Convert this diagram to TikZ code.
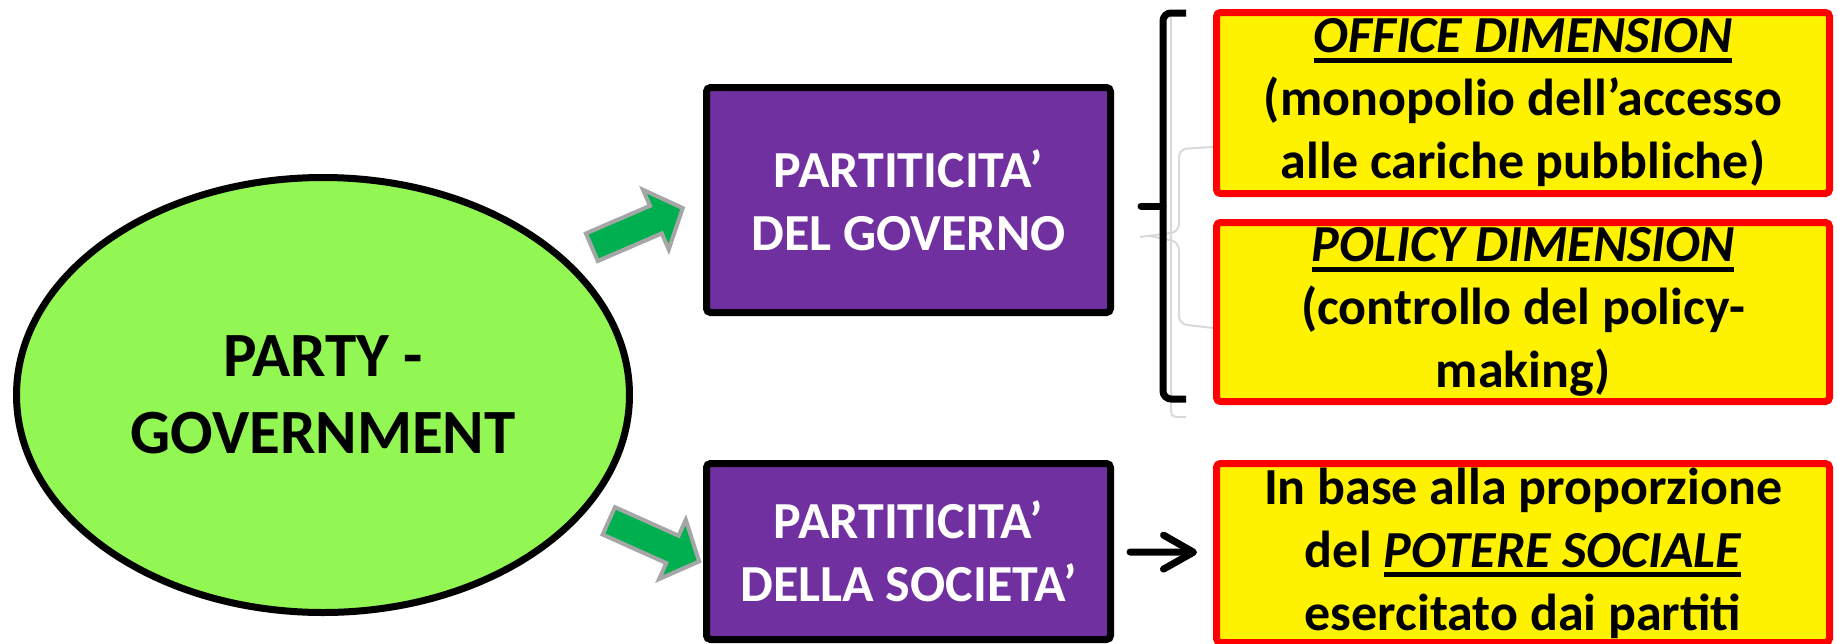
\documentclass[tikz,border=0pt]{standalone}
\usepackage{fontspec}
\setmainfont{Carlito}
\usetikzlibrary{shapes.geometric,shapes.arrows,arrows.meta}
\definecolor{partygreen}{RGB}{146,247,82}
\definecolor{partpurple}{RGB}{112,48,160}
\definecolor{arrowgreen}{RGB}{0,176,80}
\definecolor{arrowgray}{RGB}{166,166,166}
\definecolor{ghostgray}{RGB}{217,217,217}
\newcommand{\ulbold}[1]{\setbox0\hbox{\itshape #1}\rlap{\rule[-10pt]{\wd0}{5pt}}\box0}

\begin{document}
\begin{tikzpicture}[x=1pt,y=-1pt,
	party/.style={ellipse,draw,line width=7pt,fill=partygreen,minimum width=613pt,minimum height=435pt,align=center,font=\fontsize{63}{77}\selectfont\bfseries},
	partbox/.style={draw,line width=7pt,fill=partpurple,rounded corners=4pt,minimum width=404pt,text=white,align=center,font=\fontsize{52}{63}\selectfont\bfseries},
	dimbox/.style={draw=red,line width=7pt,fill=yellow,rounded corners=4pt,minimum width=613pt,align=center,font=\fontsize{52}{63}\selectfont\bfseries},
	greenarrow/.style={single arrow,draw=arrowgray,fill=arrowgreen,line width=4pt,minimum height=99pt,inner xsep=0pt,inner ysep=13pt,single arrow head extend=17.5pt,single arrow tip angle=96,anchor=tail},
	ghost/.style={ghostgray,line width=2pt,rounded corners=8pt}]
	\useasboundingbox (0,0) rectangle (1837,643);
	\node[party] (pg) at (323,395) {PARTY -\\GOVERNMENT};
	\node[partbox,minimum height=225pt] (pgov) at (908.5,200) {PARTITICITA’\\DEL GOVERNO};
	\node[partbox,minimum height=176pt] (psoc) at (908.5,551.5) {PARTITICITA’\\DELLA SOCIETA’};
	\node[greenarrow,rotate=23.3] (arrgov) at (590,248) {};
	\node[greenarrow,rotate=-24.2] (arrsoc) at (607,520) {};
	\draw[ghost] (1213,147) -- (1179,149) -- (1179,232) -- (1140,237);
	\draw[ghost] (1150,236) -- (1179,242) -- (1179,324) -- (1213,328);
	\draw[ghost,rounded corners=5pt] (1171,17) -- (1171,417) -- (1186,417);
	\node[dimbox,minimum height=181pt] (office) at (1523,103) {\ulbold{OFFICE DIMENSION}\\(monopolio dell’accesso\\alle cariche pubbliche)};
	\node[dimbox,minimum height=179pt] (policy) at (1523,312) {\ulbold{POLICY DIMENSION}\\(controllo del policy-\\making)};
	\node[dimbox,minimum height=179pt] (potere) at (1523,553) {In base alla proporzione\\del \ulbold{POTERE SOCIALE}\\esercitato dai partiti};
	\draw[line width=7pt,rounded corners=8pt] (1186,13) -- (1163,13) -- (1163,399) -- (1186,399);
	\draw[line width=7pt,line cap=round] (1163,206) -- (1141,206);
	\draw[line width=7pt,line cap=round,shorten <=16pt,shorten >=16pt,-{Straight Barb[length=30pt,width=34pt,round]}] (psoc) -- (potere);
\end{tikzpicture}
\end{document}
